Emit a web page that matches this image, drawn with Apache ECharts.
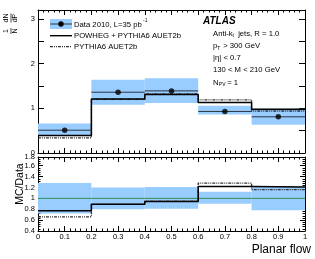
<!DOCTYPE html>
<html><head><meta charset="utf-8">
<script src="https://cdn.jsdelivr.net/npm/echarts@6/dist/echarts.min.js"></script>
<style>html,body{margin:0;padding:0;background:#fff}#c{width:315px;height:259px}</style>
</head><body><div id="c"></div>
<script>
// ---- data ----
const binEdges = [0, 0.2, 0.4, 0.6, 0.8, 1.0];
const dataValues = [0.51, 1.36, 1.39, 0.93, 0.81];
const dataBandLo = [0.40, 1.08, 1.12, 0.86, 0.63];
const dataBandHi = [0.66, 1.64, 1.67, 1.06, 0.99];
const powhegValues = [0.39, 1.21, 1.31, 1.13, 0.98];
const pythiaValues = [0.34, 1.20, 1.32, 1.19, 0.94];
const ratioBandLo = [0.72, 0.80, 0.81, 0.90, 0.78];
const ratioBandHi = [1.28, 1.20, 1.21, 1.12, 1.21];
const ratioPowheg = [0.77, 0.89, 0.94, 1.22, 1.21];
const ratioPythia = [0.66, 0.89, 0.95, 1.28, 1.16];
const xTickLabels = ['0','0.1','0.2','0.3','0.4','0.5','0.6','0.7','0.8','0.9','1'];
const topYTickLabels = ['0','1','2','3'];

const FONT = 'Liberation Sans, Arial, Helvetica, sans-serif';
const BAND = '#99ccff';
const DASH = [3, 1, 1, 1, 1, 1];

function stepPts(vals) {
  const p = vals.map((v, i) => [binEdges[i], v]);
  p.push([binEdges[binEdges.length - 1], vals[vals.length - 1]]);
  return p;
}
function bandData(lo, hi) {
  return lo.map((l, i) => [binEdges[i], binEdges[i + 1], l, hi[i]]);
}
function bandSeries(xi, yi, lo, hi) {
  return {
    type: 'custom', xAxisIndex: xi, yAxisIndex: yi, z: 1, silent: true,
    data: bandData(lo, hi),
    renderItem: function (params, api) {
      const a = api.coord([api.value(0), api.value(3)]);
      const b = api.coord([api.value(1), api.value(2)]);
      return { type: 'rect', shape: { x: a[0], y: a[1], width: b[0] - a[0], height: b[1] - a[1] },
        style: { fill: BAND } };
    }
  };
}
function stepSeries(xi, yi, vals, dashed) {
  return {
    type: 'line', xAxisIndex: xi, yAxisIndex: yi, step: 'end', symbol: 'none', z: dashed ? 3 : 4,
    data: stepPts(vals), silent: true,
    lineStyle: dashed ? { color: '#333', width: 1.3, type: DASH } : { color: '#000', width: 1.5 }
  };
}
function xAx(grid, pos, labels) {
  return {
    type: 'value', gridIndex: grid, position: pos, min: 0, max: 1, interval: 0.1,
    axisLine: { show: true, onZero: false, lineStyle: { color: '#000', width: 1 } },
    axisTick: { show: true, inside: true, length: 5, lineStyle: { color: '#000' } },
    minorTick: { show: true, splitNumber: 5, length: 2.5, lineStyle: { color: '#000' } },
    axisLabel: labels ? { show: true, fontSize: 7.5, fontFamily: FONT, color: '#000', margin: 2,
      formatter: function (v) { return xTickLabels[Math.round(v * 10)]; } } : { show: false },
    splitLine: { show: false }
  };
}

const chart = echarts.init(document.getElementById('c'), null, { renderer: 'canvas' });
chart.setOption({
  animation: false,
  backgroundColor: '#fff',
  grid: [
    { left: 38, right: 10, top: 10, height: 143 },
    { left: 38, right: 10, top: 157, height: 74 }
  ],
  xAxis: [ xAx(0, 'bottom', false), xAx(0, 'top', false), xAx(1, 'bottom', true), xAx(1, 'top', false) ],
  yAxis: [
    { type: 'value', gridIndex: 0, position: 'left', min: 0, max: 3.2, interval: 0.5,
      axisLine: { show: true, onZero: false, lineStyle: { color: '#000' } },
      axisTick: { show: true, inside: true, length: 6, lineStyle: { color: '#000' } },
      axisLabel: { fontSize: 7.5, fontFamily: FONT, color: '#000', margin: 3,
        formatter: function (v) { return Math.abs(v - Math.round(v)) < 1e-6 ? topYTickLabels[Math.round(v)] : ''; } },
      splitLine: { show: false } },
    { type: 'value', gridIndex: 0, position: 'right', min: 0, max: 3.2, interval: 0.5,
      axisLine: { show: true, onZero: false, lineStyle: { color: '#000' } },
      axisTick: { show: true, inside: true, length: 6, lineStyle: { color: '#000' } },
      axisLabel: { show: false }, splitLine: { show: false } },
    { type: 'value', gridIndex: 1, position: 'left', min: 0.4, max: 1.76, interval: 0.2,
      axisLine: { show: true, onZero: false, lineStyle: { color: '#000' } },
      axisTick: { show: true, inside: true, length: 5, lineStyle: { color: '#000' } },
      minorTick: { show: true, splitNumber: 5, length: 2.5, lineStyle: { color: '#000' } },
      axisLabel: { fontSize: 7.5, fontFamily: FONT, color: '#000', margin: 3,
        formatter: function (v) { return (Math.round(v * 10) / 10).toString(); } },
      splitLine: { show: false } },
    { type: 'value', gridIndex: 1, position: 'right', min: 0.4, max: 1.76, interval: 0.2,
      axisLine: { show: true, onZero: false, lineStyle: { color: '#000' } },
      axisTick: { show: true, inside: true, length: 5, lineStyle: { color: '#000' } },
      minorTick: { show: true, splitNumber: 5, length: 2.5, lineStyle: { color: '#000' } },
      axisLabel: { show: false }, splitLine: { show: false } }
  ],
  series: [
    bandSeries(0, 0, dataBandLo, dataBandHi),
    stepSeries(0, 0, pythiaValues, true),
    stepSeries(0, 0, powhegValues, false),
    {
      type: 'custom', xAxisIndex: 0, yAxisIndex: 0, z: 5, silent: true,
      data: dataValues.map((v, i) => [binEdges[i], binEdges[i + 1], v]),
      renderItem: function (params, api) {
        const a = api.coord([api.value(0), api.value(2)]);
        const b = api.coord([api.value(1), api.value(2)]);
        return { type: 'line', shape: { x1: a[0], y1: a[1], x2: b[0], y2: b[1] },
          style: { stroke: '#2a3440', lineWidth: 1 } };
      }
    },
    {
      type: 'scatter', xAxisIndex: 0, yAxisIndex: 0, z: 6, silent: true, symbol: 'circle', symbolSize: 5.5,
      itemStyle: { color: '#000' },
      data: dataValues.map((v, i) => [(binEdges[i] + binEdges[i + 1]) / 2, v])
    },
    Object.assign(bandSeries(2, 2, ratioBandLo, ratioBandHi), {}),
    {
      type: 'line', xAxisIndex: 2, yAxisIndex: 2, symbol: 'none', z: 2, silent: true,
      data: [[0, 1], [1, 1]], lineStyle: { color: '#2f8f55', width: 1 }
    },
    stepSeries(2, 2, ratioPythia, true),
    stepSeries(2, 2, ratioPowheg, false)
  ],
  graphic: [
    // y-axis title (top panel): 1/N dN/dP rotated
    { type: 'group', x: 11, y: 23, rotation: Math.PI / 2, children: [
      { type: 'text', x: -8, y: -4.5, style: { text: '1', font: '7px ' + FONT, fill: '#000', align: 'center', verticalAlign: 'middle' } },
      { type: 'text', x: -8, y: 4.5, style: { text: 'N', font: '7px ' + FONT, fill: '#000', align: 'center', verticalAlign: 'middle' } },
      { type: 'line', shape: { x1: -11, y1: 0, x2: -5, y2: 0 }, style: { stroke: '#000', lineWidth: 0.7 } },
      { type: 'text', x: 5, y: -4.5, style: { text: 'dN', font: '7px ' + FONT, fill: '#000', align: 'center', verticalAlign: 'middle' } },
      { type: 'text', x: 5, y: 4.5, style: { text: 'dP', font: '7px ' + FONT, fill: '#000', align: 'center', verticalAlign: 'middle' } },
      { type: 'line', shape: { x1: 0.5, y1: 0, x2: 9.5, y2: 0 }, style: { stroke: '#000', lineWidth: 0.7 } }
    ] },
    // ratio y title
    { type: 'text', x: 20, y: 184, rotation: Math.PI / 2,
      style: { text: 'MC/Data', font: '10.5px ' + FONT, fill: '#000', align: 'center', verticalAlign: 'middle' } },
    // x title
    { type: 'text', x: 311, y: 250, style: { text: 'Planar flow', font: '12px ' + FONT, fill: '#000', align: 'right', verticalAlign: 'middle' } },
    // legend
    { type: 'rect', shape: { x: 50, y: 19, width: 22, height: 10 }, style: { fill: BAND } },
    { type: 'line', shape: { x1: 50, y1: 24, x2: 72, y2: 24 }, style: { stroke: '#2a3440', lineWidth: 1 } },
    { type: 'circle', shape: { cx: 61, cy: 24, r: 2.7 }, style: { fill: '#000' } },
    { type: 'text', x: 74, y: 24.5, style: { text: 'Data 2010, L=35 pb', font: '7.7px ' + FONT, fill: '#000', verticalAlign: 'middle' } },
    { type: 'text', x: 143, y: 21, style: { text: '-1', font: '5px ' + FONT, fill: '#000', verticalAlign: 'middle' } },
    { type: 'line', shape: { x1: 50, y1: 35.7, x2: 72, y2: 35.7 }, style: { stroke: '#000', lineWidth: 1.4 } },
    { type: 'text', x: 74, y: 36, style: { text: 'POWHEG + PYTHIA6 AUET2b', font: '7.7px ' + FONT, fill: '#000', verticalAlign: 'middle' } },
    { type: 'line', shape: { x1: 50, y1: 46.7, x2: 72, y2: 46.7 }, style: { stroke: '#333', lineWidth: 1.2, lineDash: DASH } },
    { type: 'text', x: 74, y: 47, style: { text: 'PYTHIA6 AUET2b', font: '7.7px ' + FONT, fill: '#000', verticalAlign: 'middle' } },
    // ATLAS labels
    { type: 'text', x: 203, y: 21, style: { text: 'ATLAS', font: 'italic bold 10px ' + FONT, fill: '#000', verticalAlign: 'middle' } },
    { type: 'text', x: 213, y: 33.5, style: { text: 'Anti-k', font: '7.7px ' + FONT, fill: '#000', verticalAlign: 'middle' } },
    { type: 'text', x: 232.5, y: 36, style: { text: 't', font: '5px ' + FONT, fill: '#000', verticalAlign: 'middle' } },
    { type: 'text', x: 236, y: 33.5, style: { text: ' jets, R = 1.0', font: '7.7px ' + FONT, fill: '#000', verticalAlign: 'middle' } },
    { type: 'text', x: 213, y: 45.8, style: { text: 'p', font: '7.7px ' + FONT, fill: '#000', verticalAlign: 'middle' } },
    { type: 'text', x: 217.3, y: 48.3, style: { text: 'T', font: '5px ' + FONT, fill: '#000', verticalAlign: 'middle' } },
    { type: 'text', x: 221, y: 45.8, style: { text: ' > 300 GeV', font: '7.7px ' + FONT, fill: '#000', verticalAlign: 'middle' } },
    { type: 'text', x: 213, y: 57.5, style: { text: '|\u03b7| < 0.7', font: '7.7px ' + FONT, fill: '#000', verticalAlign: 'middle' } },
    { type: 'text', x: 213, y: 69.8, style: { text: '130 < M < 210 GeV', font: '7.7px ' + FONT, fill: '#000', verticalAlign: 'middle' } },
    { type: 'text', x: 213, y: 82.5, style: { text: 'N', font: '7.7px ' + FONT, fill: '#000', verticalAlign: 'middle' } },
    { type: 'text', x: 218.8, y: 85, style: { text: 'PV', font: '5px ' + FONT, fill: '#000', verticalAlign: 'middle' } },
    { type: 'text', x: 225, y: 82.5, style: { text: ' = 1', font: '7.7px ' + FONT, fill: '#000', verticalAlign: 'middle' } }
  ]
});
</script></body></html>
